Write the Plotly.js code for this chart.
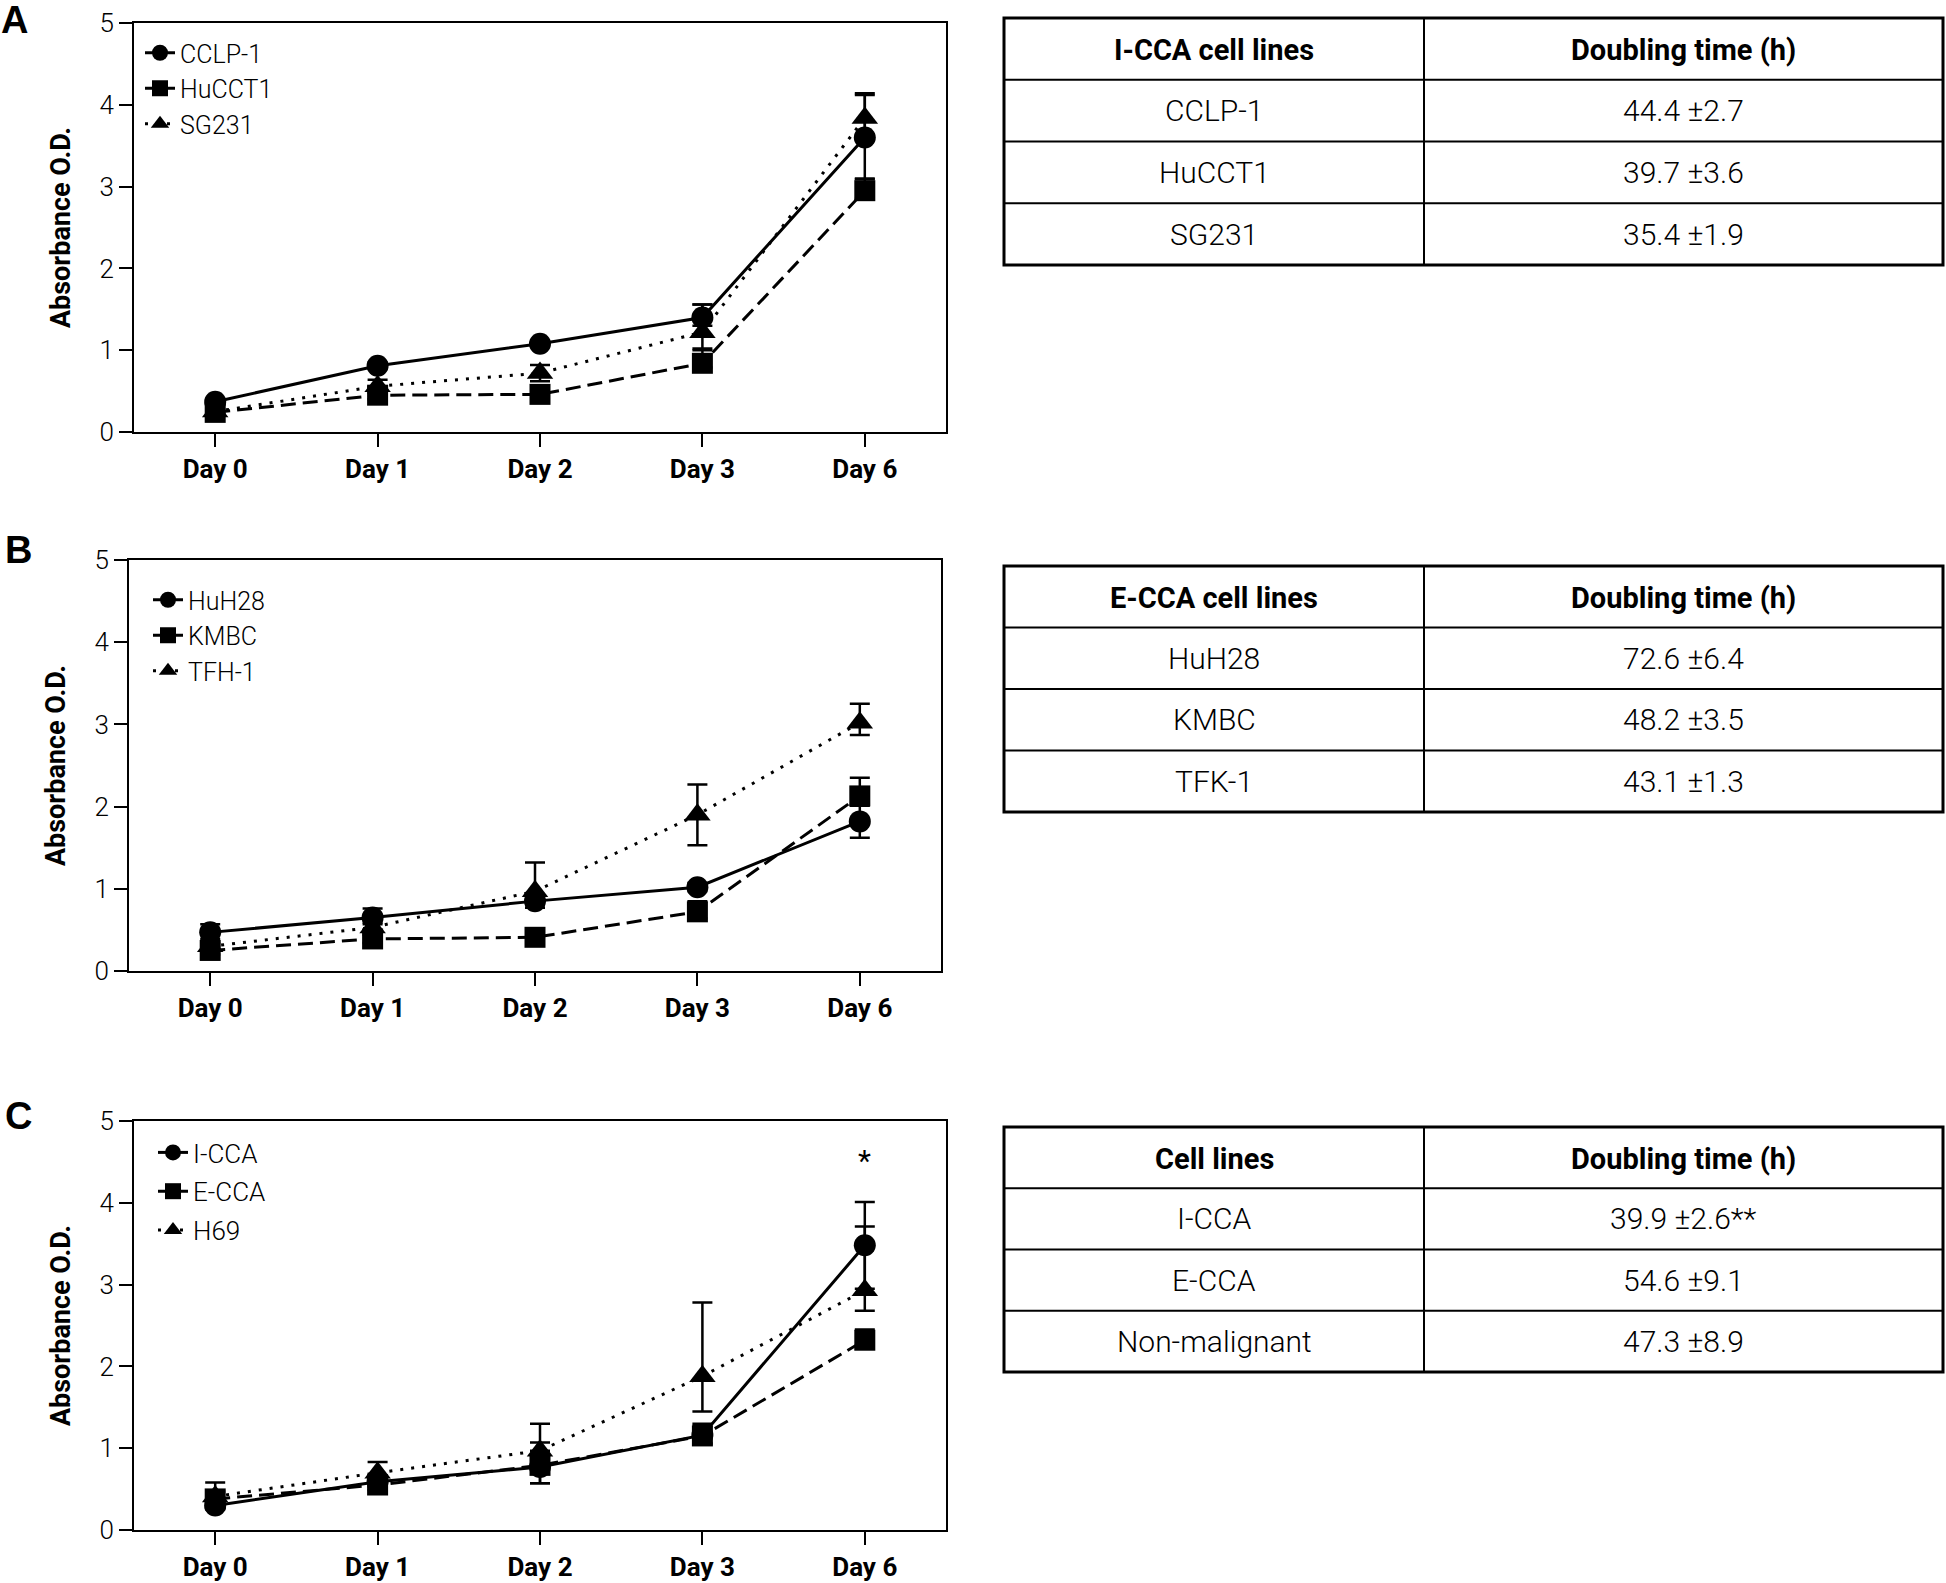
<!DOCTYPE html>
<html><head><meta charset="utf-8">
<script src="https://cdn.plot.ly/plotly-3.0.1.min.js"></script>
<style>html,body{margin:0;padding:0;background:#fff}</style>
</head><body><div id="chart" style="width:1946px;height:1583px"></div>
<script>
// ---------- data ----------
const days = ['Day 0','Day 1','Day 2','Day 3','Day 6'];
const yTicks = [0,1,2,3,4,5];

// Panel A (I-CCA): mean, upper error, lower error
const aNames = ['CCLP-1','HuCCT1','SG231'];
const aCCLP1 = [0.37,0.81,1.08,1.40,3.60];
const aCCLP1Err = [0.03,0.04,0.04,0.16,0.52];
const aCCLP1ErrLo = [0.03,0.04,0.04,0.10,0.50];
const aHuCCT1 = [0.24,0.45,0.46,0.84,2.95];
const aHuCCT1Err = [0.03,0.05,0.05,0.16,0.14];
const aHuCCT1ErrLo = [0.03,0.05,0.05,0.05,0.10];
const aSG231 = [0.25,0.56,0.72,1.22,3.84];
const aSG231Err = [0.03,0.08,0.10,0.34,0.30];
const aSG231ErrLo = [0.03,0.08,0.10,0.20,0.25];

// Panel B (E-CCA)
const bNames = ['HuH28','KMBC','TFH-1'];
const bHuH28 = [0.47,0.65,0.85,1.02,1.82];
const bHuH28Err = [0.10,0.11,0.05,0.05,0.20];
const bHuH28ErrLo = [0.08,0.08,0.05,0.05,0.20];
const bKMBC = [0.25,0.39,0.41,0.72,2.13];
const bKMBCErr = [0.05,0.05,0.05,0.13,0.22];
const bKMBCErrLo = [0.05,0.05,0.05,0.08,0.12];
const bTFH1 = [0.30,0.53,0.97,1.90,3.02];
const bTFH1Err = [0.04,0.06,0.35,0.37,0.23];
const bTFH1ErrLo = [0.04,0.06,0.20,0.37,0.15];

// Panel C (groups)
const cNames = ['I-CCA','E-CCA','H69'];
const cICCA = [0.30,0.59,0.77,1.16,3.48];
const cICCAErr = [0.05,0.08,0.20,0.14,0.53];
const cICCAErrLo = [0.05,0.06,0.20,0.10,0.53];
const cECCA = [0.38,0.55,0.79,1.15,2.32];
const cECCAErr = [0.20,0.08,0.28,0.12,0.13];
const cECCAErrLo = [0.10,0.06,0.22,0.10,0.10];
const cH69 = [0.41,0.70,0.97,1.88,2.93];
const cH69Err = [0.06,0.13,0.33,0.90,0.78];
const cH69ErrLo = [0.06,0.10,0.20,0.43,0.25];
const cSignifX = 'Day 6';
const cSignifY = 4.52;
const cSignifText = '*';

// Tables
const tAHead = ['I-CCA cell lines','Doubling time (h)'];
const tALines = ['CCLP-1','HuCCT1','SG231'];
const tATimes = ['44.4 ±2.7','39.7 ±3.6','35.4 ±1.9'];
const tBHead = ['E-CCA cell lines','Doubling time (h)'];
const tBLines = ['HuH28','KMBC','TFK-1'];
const tBTimes = ['72.6 ±6.4','48.2 ±3.5','43.1 ±1.3'];
const tCHead = ['Cell lines','Doubling time (h)'];
const tCLines = ['I-CCA','E-CCA','Non-malignant'];
const tCTimes = ['39.9 ±2.6**','54.6 ±9.1','47.3 ±8.9'];

const panelLabels = ['A','B','C'];

// ---------- styling ----------
const W = 1946, H = 1583;
const FONT = 'Roboto, Liberation Sans, Arial, sans-serif';
const BOLDFONT = 'Liberation Sans, Arial, sans-serif';
const px = v => v / W;
const py = v => 1 - v / H;

const styles = [
  {symbol:'circle', size:22, dash:'solid'},
  {symbol:'square', size:21, dash:'15px,7px'},
  {symbol:'triangle-up', size:23, dash:'3px,8px'}
];

function series(name, y, err, errLo, idx, xa, ya, legend) {
  const s = styles[idx];
  return {
    type:'scatter', mode:'lines+markers', name:name, x:days, y:y,
    xaxis:xa, yaxis:ya, legend:legend, legendgroup:legend + idx,
    line:{color:'#000', width:3, dash:s.dash},
    marker:{color:'#000', symbol:s.symbol, size:s.size},
    error_y:{type:'data', symmetric:false, array:err, arrayminus:errLo, visible:true,
      color:'#000', thickness:2.5, width:10},
    cliponaxis:false
  };
}

const traces = [
  series(aNames[0], aCCLP1, aCCLP1Err, aCCLP1ErrLo, 0, 'x', 'y', 'legend'),
  series(aNames[1], aHuCCT1, aHuCCT1Err, aHuCCT1ErrLo, 1, 'x', 'y', 'legend'),
  series(aNames[2], aSG231, aSG231Err, aSG231ErrLo, 2, 'x', 'y', 'legend'),
  series(bNames[0], bHuH28, bHuH28Err, bHuH28ErrLo, 0, 'x2', 'y2', 'legend2'),
  series(bNames[1], bKMBC, bKMBCErr, bKMBCErrLo, 1, 'x2', 'y2', 'legend2'),
  series(bNames[2], bTFH1, bTFH1Err, bTFH1ErrLo, 2, 'x2', 'y2', 'legend2'),
  series(cNames[0], cICCA, cICCAErr, cICCAErrLo, 0, 'x3', 'y3', 'legend3'),
  series(cNames[1], cECCA, cECCAErr, cECCAErrLo, 1, 'x3', 'y3', 'legend3'),
  series(cNames[2], cH69, cH69Err, cH69ErrLo, 2, 'x3', 'y3', 'legend3')
];

const plotBoxes = [
  {x0:134, x1:946, y0:23, y1:432},
  {x0:129, x1:941, y0:560, y1:971},
  {x0:134, x1:946, y0:1121, y1:1530}
];

function xAx(b, anchor) {
  return {domain:[px(b.x0), px(b.x1)], anchor:anchor, type:'category',
    categoryorder:'array', categoryarray:days, range:[-0.5, 4.5],
    showline:true, linewidth:2, linecolor:'#000', mirror:true,
    ticks:'outside', ticklen:13, tickwidth:2, tickcolor:'#000',
    showgrid:false, zeroline:false, fixedrange:true,
    tickfont:{family:FONT, size:26, weight:'bold', color:'#000'}};
}
function yAx(b, anchor) {
  return {domain:[py(b.y1), py(b.y0)], anchor:anchor, range:[0, 5], tickvals:yTicks,
    showline:true, linewidth:2, linecolor:'#000', mirror:true,
    ticks:'outside', ticklen:13, tickwidth:2, tickcolor:'#000',
    showgrid:false, zeroline:false, fixedrange:true,
    tickfont:{family:FONT, size:26, weight:300, color:'#000'},
    title:{text:'Absorbance O.D.', standoff:21,
      font:{family:FONT, size:27, weight:'bold', color:'#000'}}};
}

function legendAt(xPix, yPix, fs, grouped) {
  return {x:px(xPix), y:py(yPix), xanchor:'left', yanchor:'top',
    bgcolor:'rgba(0,0,0,0)', borderwidth:0,
    traceorder:grouped ? 'grouped' : 'normal', tracegroupgap:2,
    font:{family:FONT, size:fs, weight:300, color:'#000'}, itemwidth:30};
}

// ---------- tables (grid shapes + text annotations) ----------
const tableBoxes = [
  {x0:1004, xm:1424, x1:1943, y0:18, y1:265},
  {x0:1004, xm:1424, x1:1943, y0:566, y1:812},
  {x0:1004, xm:1424, x1:1943, y0:1127, y1:1372}
];
const tableData = [[tAHead,tALines,tATimes],[tBHead,tBLines,tBTimes],[tCHead,tCLines,tCTimes]];

const shapes = [];
const annotations = [];
tableData.forEach((t, i) => {
  const b = tableBoxes[i];
  const nRows = t[1].length + 1;
  const rh = (b.y1 - b.y0) / nRows;
  for (let r = 1; r < nRows; r++) {
    const yy = b.y0 + r * rh;
    shapes.push({type:'line', xref:'paper', yref:'paper', x0:px(b.x0), x1:px(b.x1),
      y0:py(yy), y1:py(yy), line:{color:'#000', width:2}});
  }
  shapes.push({type:'line', xref:'paper', yref:'paper', x0:px(b.xm), x1:px(b.xm),
    y0:py(b.y0), y1:py(b.y1), line:{color:'#000', width:2}});
  shapes.push({type:'rect', xref:'paper', yref:'paper', x0:px(b.x0), x1:px(b.x1),
    y0:py(b.y1), y1:py(b.y0), line:{color:'#000', width:3}, fillcolor:'rgba(0,0,0,0)'});
  const cx = [(b.x0 + b.xm) / 2, (b.xm + b.x1) / 2];
  t[0].forEach((h, c) => annotations.push({xref:'paper', yref:'paper',
    x:px(cx[c]), y:py(b.y0 + rh / 2 + 1), text:h, showarrow:false,
    xanchor:'center', yanchor:'middle',
    font:{family:FONT, size:29, weight:'bold', color:'#000'}}));
  [t[1], t[2]].forEach((col, c) => col.forEach((v, r) => annotations.push({
    xref:'paper', yref:'paper', x:px(cx[c]), y:py(b.y0 + (r + 1.5) * rh),
    text:v, showarrow:false, xanchor:'center', yanchor:'middle',
    font:{family:FONT, size:30, weight:300, color:'#000'}})));
});

const labelPos = [[14, 20], [18, 550], [18, 1116]];
panelLabels.forEach((t, i) => annotations.push({xref:'paper', yref:'paper',
  x:px(labelPos[i][0]), y:py(labelPos[i][1]), text:t, showarrow:false,
  xanchor:'center', yanchor:'middle',
  font:{family:BOLDFONT, size:38, weight:'bold', color:'#000'}}));
annotations.push({xref:'x3', yref:'y3', x:cSignifX, y:cSignifY, text:cSignifText,
  showarrow:false, font:{family:FONT, size:30, color:'#000'}});

const layout = {
  width:W, height:H, margin:{l:0, r:0, t:0, b:0},
  paper_bgcolor:'#fff', plot_bgcolor:'#fff', showlegend:true,
  xaxis:xAx(plotBoxes[0], 'y'), yaxis:yAx(plotBoxes[0], 'x'),
  xaxis2:xAx(plotBoxes[1], 'y2'), yaxis2:yAx(plotBoxes[1], 'x2'),
  xaxis3:xAx(plotBoxes[2], 'y3'), yaxis3:yAx(plotBoxes[2], 'x3'),
  legend:legendAt(140, 30, 25, false),
  legend2:legendAt(148, 577, 25, false),
  legend3:legendAt(153, 1129, 26, true),
  shapes:shapes, annotations:annotations
};

Plotly.newPlot('chart', traces, layout, {staticPlot:true, displayModeBar:false});
</script></body></html>
